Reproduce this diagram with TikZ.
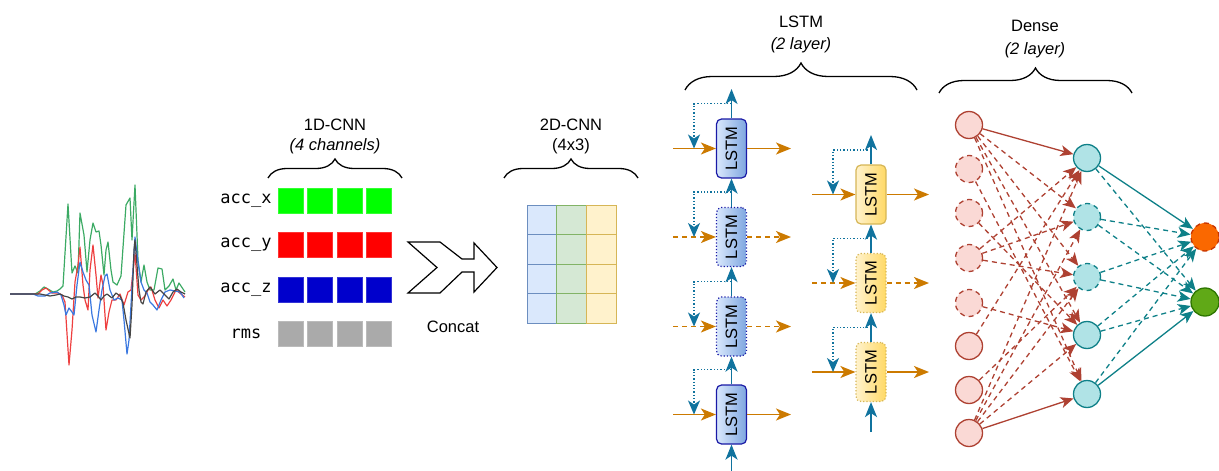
\documentclass[tikz,border=0pt]{standalone}
\usepackage{fontspec}
\setmainfont{Liberation Sans}
\newfontfamily\codefont{DejaVu Sans Mono}
\usetikzlibrary{arrows.meta,decorations.pathreplacing,calc}

\definecolor{seqorange}{RGB}{204,122,0}
\definecolor{flowblue}{HTML}{10739E}
\definecolor{lstmblueA}{HTML}{DAE8FC}
\definecolor{lstmblueB}{HTML}{7EA6E0}
\definecolor{lstmblueE}{HTML}{1A1AA6}
\definecolor{lstmyelA}{HTML}{FFF2CC}
\definecolor{lstmyelB}{HTML}{FFD966}
\definecolor{lstmyelE}{HTML}{D6B656}
\definecolor{nodepink}{HTML}{FAD9D5}
\definecolor{edgered}{HTML}{AE4132}
\definecolor{nodeteal}{HTML}{B0E3E6}
\definecolor{edgeteal}{HTML}{0E8088}
\definecolor{outorange}{HTML}{FA6800}
\definecolor{outorangeE}{HTML}{C73500}
\definecolor{outgreen}{HTML}{60A917}
\definecolor{outgreenE}{HTML}{2D7600}
\definecolor{gridblueF}{HTML}{DAE8FC}
\definecolor{gridblueE}{HTML}{6C8EBF}
\definecolor{gridgreenF}{HTML}{D5E8D4}
\definecolor{gridgreenE}{HTML}{82B366}
\definecolor{gridyelF}{HTML}{FFF2CC}
\definecolor{gridyelE}{HTML}{D6B656}
\definecolor{sigG}{RGB}{60,170,100}
\definecolor{sigR}{RGB}{238,64,64}
\definecolor{sigB}{RGB}{58,120,224}
\definecolor{sigK}{RGB}{70,70,70}

\tikzset{
  label/.style={inner sep=0pt, align=center},
  brc/.style={decorate, line width=1.3pt, black},
  sq/.style={minimum size=25pt, inner sep=0pt, line width=0.8pt},
  cell/.style={line width=1pt},
  lstmA/.style={rounded corners=5pt, minimum width=30pt, minimum height=59pt, inner sep=0pt,
    left color=lstmblueA, right color=lstmblueB, draw=lstmblueE, line width=1.2pt},
  lstmB/.style={rounded corners=5pt, minimum width=30pt, minimum height=59pt, inner sep=0pt,
    left color=lstmyelA, right color=lstmyelB, draw=lstmyelE, line width=1.2pt},
  bigtip/.style={-{Stealth[length=15pt,width=12pt,inset=4pt]}},
  seqarrow/.style={draw=seqorange, line width=1.8pt, bigtip},
  vert/.style={draw=flowblue, line width=1.8pt, bigtip},
  fb/.style={draw=flowblue, line width=1.3pt, dotted, -{Stealth[length=14pt,width=12pt,inset=4pt]}},
  inN/.style={circle, minimum size=27pt, inner sep=0pt, fill=nodepink, draw=edgered, line width=1.3pt},
  midN/.style={circle, minimum size=27pt, inner sep=0pt, fill=nodeteal, draw=edgeteal, line width=1.3pt},
  redE/.style={draw=edgered, line width=1.3pt, -{Stealth[length=13pt,width=11pt,inset=3.5pt]}},
  tealE/.style={draw=edgeteal, line width=1.3pt, -{Stealth[length=13pt,width=11pt,inset=3.5pt]}},
  dsh/.style={dash pattern=on 5pt off 4pt},
  sig/.style={line width=1.2pt, line join=round}
}

\begin{document}
\begin{tikzpicture}[x=1pt, y=-1pt, font=\fontsize{16.5}{19}\selectfont]
\useasboundingbox (0,0) rectangle (1219,471);

% ---------- raw accelerometer signal ----------
\draw[sig, sigG] plot coordinates {(10,294) (35,294) (40,291) (44,287) (48,289) (53,292) (57,291) (60,289) (63,286) (68,204) (72,273) (75,266) (78,273) (80,213) (84,235) (87,272) (90,240) (93,223) (96,232) (99,231) (101,245) (104,275) (106,250) (108,242) (111,270) (113,282) (117,285) (121,276) (126,205) (130,198) (132,240) (135,185) (138,260) (141,282) (144,265) (147,282) (150,290) (154,290) (158,268) (162,269) (165,290) (169,286) (173,279) (176,290) (179,283) (185,292)};
\draw[sig, sigR] plot coordinates {(10,294) (38,294) (42,290) (46,288) (52,293) (58,293) (62,295) (65,302) (69,365) (72,330) (75,282) (78,265) (80,247) (83,285) (85,300) (88,310) (90,270) (93,245) (96,275) (98,298) (101,275) (103,285) (106,330) (109,312) (112,300) (116,300) (120,294) (124,305) (128,292) (131,290) (135,253) (138,295) (141,300) (145,296) (148,290) (151,287) (155,300) (159,308) (163,300) (167,306) (171,300) (176,290) (181,294) (185,297)};
\draw[sig, sigB] plot coordinates {(10,294) (33,294) (38,296) (45,296) (50,293) (57,292) (61,295) (64,305) (66,315) (69,308) (72,312) (74,315) (77,285) (80,262) (83,272) (86,280) (89,285) (92,315) (96,332) (99,310) (102,290) (105,276) (107,274) (110,290) (114,300) (118,298) (122,300) (124,320) (127,354) (129,340) (131,305) (133,270) (135,237) (138,262) (141,282) (144,290) (147,293) (150,302) (153,305) (157,310) (161,300) (165,292) (170,290) (175,291) (180,292) (184,298)};
\draw[sig, sigK] plot coordinates {(10,294) (40,294) (45,295) (50,296) (56,295) (60,294) (64,296) (68,297) (72,299) (76,297) (80,297) (85,298) (90,297) (95,293) (98,296) (101,300) (104,296) (107,294) (112,298) (116,293) (120,296) (123,303) (126,320) (130,338) (132,305) (134,250) (135,240) (137,265) (139,290) (141,302) (143,304) (146,292) (150,287) (155,294) (160,290) (165,295) (169,299) (173,292) (177,289) (181,292) (185,294)};

% ---------- 1D-CNN channels ----------
\node[label] (t1d) at (335,125) {1D-CNN};
\node[label] (s1d) at (335,146) {\itshape (4 channels)};
\coordinate (b1dL) at (268,178); \coordinate (b1dR) at (402,178);
\draw[brc, decoration={brace, amplitude=19pt}] (b1dL) -- (b1dR);

\foreach \r/\nm/\fc in {0/acc\_x/00FF00, 1/acc\_y/FF0000, 2/acc\_z/0000CC, 3/rms/AAAAAA} {
  \definecolor{sqc}{HTML}{\fc}
  \node[label, font=\codefont\fontsize{17}{19}\selectfont] (ch\r) at (246,{200.5+44.5*\r}) {\nm};
  \foreach \c in {0,1,2,3} {
    \node[sq, fill=sqc, draw=sqc!80!white] (sq\r\c) at ({290.5+29.5*\c},{200.5+44.5*\r}) {};
  }
}

% ---------- concatenation arrow ----------
\draw[line width=1.2pt, fill=white, line join=miter]
  (408,242) -- (440,242) -- (462,259) -- (474,259) -- (474,243) -- (497,267.5)
  -- (474,292) -- (474,272) -- (462,272) -- (440,293) -- (408,293) -- (437,267.5) -- cycle;
\node[label] (tcat) at (453,327) {Concat};

% ---------- 2D-CNN grid ----------
\node[label] (t2d) at (571,125) {2D-CNN};
\node[label] (s2d) at (571,146) {(4x3)};
\coordinate (b2dL) at (504,178); \coordinate (b2dR) at (638,178);
\draw[brc, decoration={brace, amplitude=19pt}] (b2dL) -- (b2dR);
\foreach \c/\fc/\ec in {0/gridblueF/gridblueE, 1/gridgreenF/gridgreenE, 2/gridyelF/gridyelE} {
  \foreach \r in {0,1,2,3} {
    \draw[cell, fill=\fc, draw=\ec] ({527+29.67*\c},{205+29.5*\r}) rectangle ++(29.67,29.5);
  }
}

% ---------- LSTM (2 layers) ----------
\node[label] (tls) at (801,22) {LSTM};
\node[label] (sls) at (801,45) {\itshape (2 layer)};
\coordinate (blsL) at (685,90); \coordinate (blsR) at (917,90);
\draw[brc, decoration={brace, amplitude=27pt}] (blsL) -- (blsR);

% first layer
\foreach \i/\y/\bs/\as in {1/148.5/solid/solid, 2/237/dotted/dsh, 3/326.5/dotted/dsh, 4/414.5/solid/solid} {
  \node[lstmA, \bs] (a\i) at (731.5,\y) {\rotatebox{90}{LSTM}};
  \coordinate (ain\i) at (673,\y);
  \coordinate (aout\i) at (791,\y);
  \coordinate (afs\i) at (731.5,{\y-45});
  \coordinate (afe\i) at (694,\y);
  \draw[seqarrow, \as] (ain\i) -- (a\i);
  \draw[seqarrow, \as] (a\i) -- (aout\i);
}
\coordinate (atop) at (731.5,89);
\coordinate (abot) at (731.5,471);
\draw[vert] (abot) -- (a4.south);
\draw[vert] (a4.north) -- (a3.south);
\draw[vert] (a3.north) -- (a2.south);
\draw[vert] (a2.north) -- (a1.south);
\draw[vert] (a1.north) -- (atop);
\foreach \i in {1,2,3,4} { \draw[fb] (afs\i) -| (afe\i); }

% second layer
\foreach \i/\y/\bs/\as in {1/194.5/solid/solid, 2/283/dotted/dsh, 3/372/dotted/solid} {
  \node[lstmB, \bs] (b\i) at (871,\y) {\rotatebox{90}{LSTM}};
  \coordinate (bin\i) at (812,\y);
  \coordinate (bout\i) at (929,\y);
  \coordinate (bfs\i) at (871,{\y-44.5});
  \coordinate (bfe\i) at (833,\y);
  \draw[seqarrow, \as] (bin\i) -- (b\i);
  \draw[seqarrow, \as] (b\i) -- (bout\i);
}
\coordinate (btop) at (871,135);
\coordinate (bbot) at (871,432);
\draw[vert] (bbot) -- (b3.south);
\draw[vert] (b3.north) -- (b2.south);
\draw[vert] (b2.north) -- (b1.south);
\draw[vert] (b1.north) -- (btop);
\foreach \i in {1,2,3} { \draw[fb] (bfs\i) -| (bfe\i); }

% ---------- Dense (2 layers) ----------
\node[label] (tde) at (1035,26) {Dense};
\node[label] (sde) at (1035,50) {\itshape (2 layer)};
\coordinate (bdeL) at (939,93); \coordinate (bdeR) at (1132,93);
\draw[brc, decoration={brace, amplitude=25pt}] (bdeL) -- (bdeR);

\foreach \i/\y/\st in {1/125/solid, 2/169/dsh, 3/213/dsh, 4/258/dsh, 5/303/dsh, 6/346/solid, 7/390/solid, 8/433/solid} {
  \node[inN, \st] (l\i) at (969,\y) {};
}
\foreach \i/\y/\st in {1/158/solid, 2/217/dsh, 3/277/dsh, 4/335/solid, 5/394/solid} {
  \node[midN, \st] (m\i) at (1087,\y) {};
}
\node[circle, minimum size=28pt, inner sep=0pt, fill=outorange, draw=outorangeE, line width=1.3pt, dsh] (o1) at (1205,237) {};
\node[circle, minimum size=28pt, inner sep=0pt, fill=outgreen, draw=outgreenE, line width=1.3pt] (o2) at (1205,302) {};

\foreach \a/\b in {1/2,1/3,1/4,1/5,8/1,8/2,8/3,8/4,2/5,3/4,4/1,4/2,4/3,5/4,6/1,7/3} {
  \draw[redE, dsh] (l\a) -- (m\b);
}
\draw[redE] (l1) -- (m1);
\draw[redE] (l8) -- (m5);

\foreach \a/\b in {1/2,2/1,2/2,3/1,3/2,4/1,4/2,5/1} {
  \draw[tealE, dsh] (m\a) -- (o\b);
}
\draw[tealE] (m1) -- (o1);
\draw[tealE] (m5) -- (o2);

\end{tikzpicture}
\end{document}
